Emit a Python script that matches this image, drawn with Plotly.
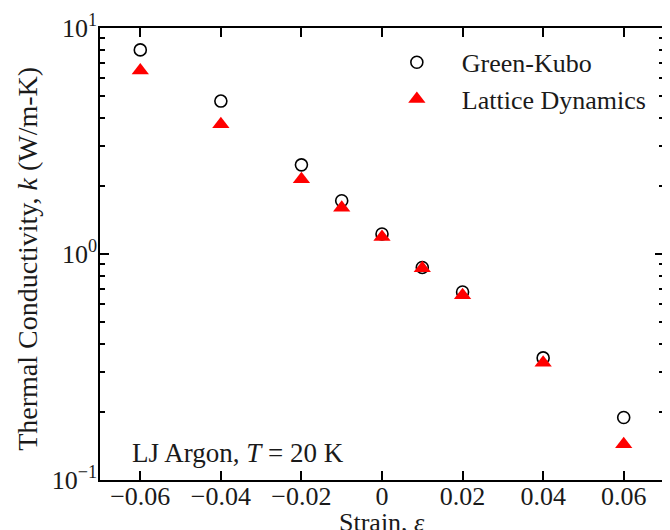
import plotly.graph_objects as go

strain = [-0.06, -0.04, -0.02, -0.01, 0.0, 0.01, 0.02, 0.04, 0.06]
k_green_kubo = [8.0, 4.75, 2.48, 1.72, 1.226, 0.872, 0.679, 0.347, 0.189]
k_lattice_dyn = [6.48, 3.75, 2.14, 1.60, 1.19, 0.865, 0.657, 0.33, 0.144]

x_tickvals = [-0.06, -0.04, -0.02, 0, 0.02, 0.04, 0.06]
x_ticktext = ["\u22120.06", "\u22120.04", "\u22120.02", "0", "0.02", "0.04", "0.06"]
y_tickvals = [0.1, 1, 10]
y_ticktext = ["10<sup>\u22121</sup>", "10<sup>0</sup>", "10<sup>1</sup>"]
y_minor = [0.2, 0.3, 0.4, 0.5, 0.6, 0.7, 0.8, 0.9, 2, 3, 4, 5, 6, 7, 8, 9]

FONT = "Liberation Serif"
TXT = "#1a1a1a"

fig = go.Figure()
fig.add_trace(go.Scatter(
    x=strain, y=k_green_kubo, mode="markers", name="Green-Kubo",
    marker=dict(symbol="circle-open", size=12, color="black", line=dict(width=1.6, color="black")),
))
fig.add_trace(go.Scatter(
    x=strain, y=k_lattice_dyn, mode="markers", name="Lattice Dynamics",
    marker=dict(symbol="triangle-up", size=15, color="red", line=dict(width=0)),
))

axis_common = dict(
    showline=True, linecolor="black", linewidth=1.5, mirror="ticks",
    ticks="inside", tickcolor="black", tickwidth=1.5, ticklen=9,
    showgrid=False, zeroline=False, automargin=False,
    tickfont=dict(family=FONT, size=26, color=TXT),
)

# the page body adds an 8px offset; margins compensate for it
fig.update_layout(
    width=670, height=530,
    margin=dict(l=92, r=14, t=20, b=58),
    paper_bgcolor="white", plot_bgcolor="white",
    font=dict(family=FONT, color=TXT),
    showlegend=True,
    legend=dict(
        x=0.482, y=0.976, xanchor="left", yanchor="top",
        bgcolor="rgba(0,0,0,0)", font=dict(family=FONT, size=26, color=TXT),
        itemwidth=80, tracegroupgap=0,
    ),
    xaxis=dict(
        range=[-0.07, 0.07], tickmode="array", tickvals=x_tickvals, ticktext=x_ticktext,
        ticklabelstandoff=-8,
        **axis_common,
    ),
    yaxis=dict(
        type="log", range=[-1, 1], tickmode="array", tickvals=y_tickvals, ticktext=y_ticktext,
        ticklabelstandoff=-4,
        minor=dict(tickmode="array", tickvals=y_minor, ticks="inside", ticklen=5,
                   tickcolor="black", tickwidth=1.5, showgrid=False),
        **axis_common,
    ),
    annotations=[
        dict(
            text="LJ Argon, <i>T</i> = 20 K", xref="paper", yref="paper",
            x=0.053, y=0.06, xanchor="left", yanchor="middle", showarrow=False,
            font=dict(family=FONT, size=27, color=TXT),
        ),
        dict(
            text="Strain, <i>\u03b5</i>", xref="paper", yref="paper",
            x=0.5, y=-0.094, xanchor="center", yanchor="middle", showarrow=False,
            font=dict(family=FONT, size=26, color=TXT),
        ),
        dict(
            text="Thermal Conductivity, <i>k</i> (W/m-K)", xref="paper", yref="paper",
            x=-0.128, y=0.489, xanchor="center", yanchor="middle", showarrow=False,
            textangle=-90, font=dict(family=FONT, size=28, color=TXT),
        ),
    ],
)

fig.write_html("out.html")
